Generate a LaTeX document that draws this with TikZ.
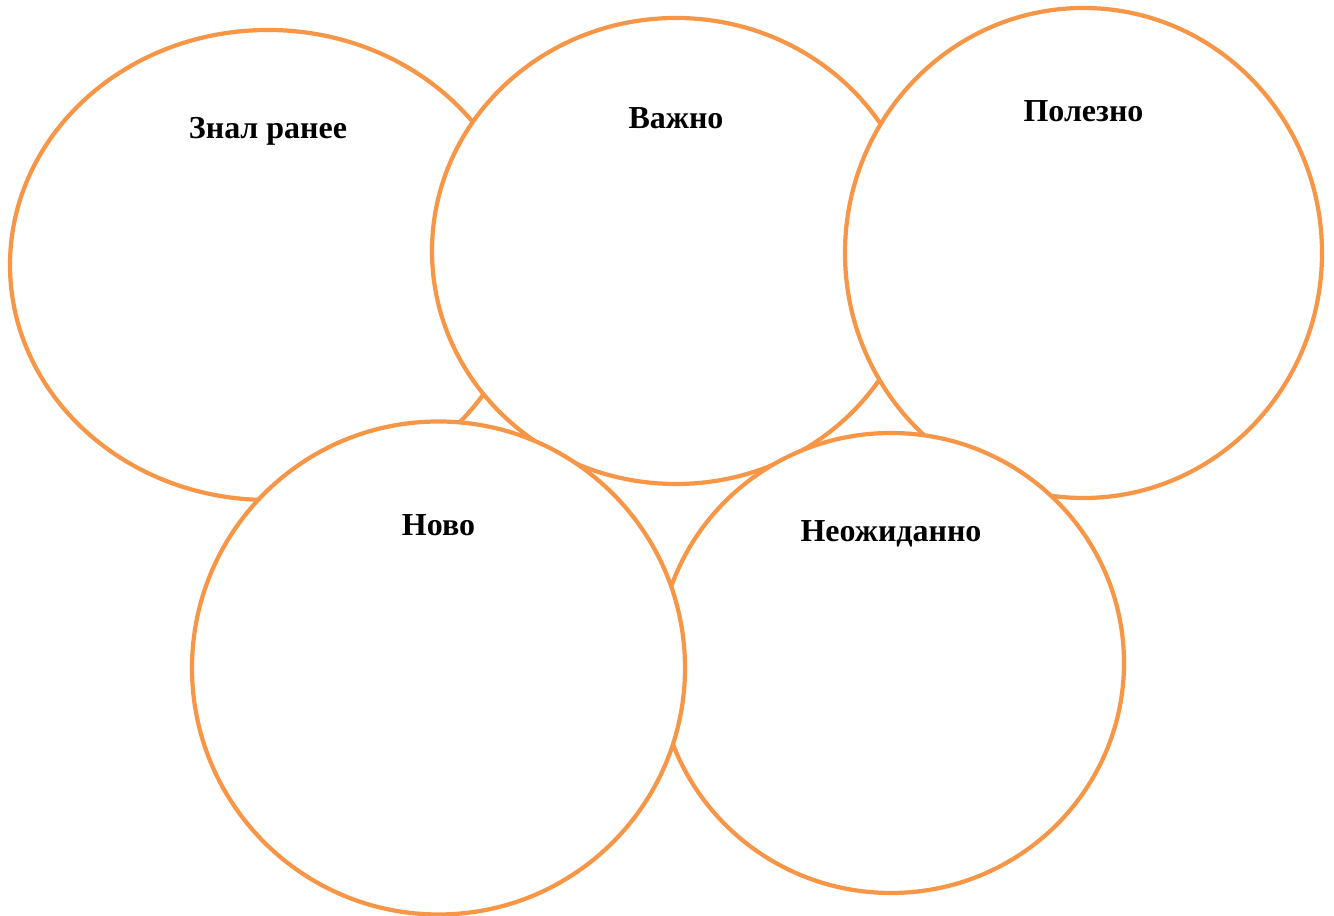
\documentclass[tikz,border=0pt]{standalone}
\usepackage{fontspec}
\setmainfont{Liberation Serif}
\usetikzlibrary{shapes.geometric,positioning,calc}
\definecolor{ringorange}{HTML}{F79646}

\begin{document}
\begin{tikzpicture}[
    ring/.style={draw=ringorange, line width=1.2pt, fill=white, ellipse, inner sep=0pt},
    lbl/.style={font=\fontsize{9.1}{11}\selectfont\bfseries, anchor=base, inner sep=0pt}
]
\useasboundingbox (0,0) rectangle (13.34,9.16);
% rings, bottom one first
\node[ring, minimum width=5.16cm, minimum height=4.70cm] (znal) at (2.68,6.51) {};
\node[ring, minimum width=4.88cm, minimum height=4.66cm] (vazh) at (6.76,6.65) {};
\node[ring, minimum width=4.77cm, minimum height=4.90cm] (polez) at (10.835,6.63) {};
\node[ring, minimum width=4.66cm, minimum height=4.60cm] (neozh) at (8.91,2.53) {};
\node[ring, minimum width=4.93cm, minimum height=4.93cm] (novo) at (4.385,2.48) {};

% captions
\node[lbl] (znal-t) at ([yshift=-1.11cm]znal.north) {Знал ранее};
\node[lbl] (vazh-t) at ([yshift=-1.13cm]vazh.north) {Важно};
\node[lbl] (polez-t) at ([yshift=-1.16cm]polez.north) {Полезно};
\node[lbl] (novo-t) at ([yshift=-1.16cm]novo.north) {Ново};
\node[lbl] (neozh-t) at ([yshift=-1.11cm]neozh.north) {Неожиданно};
\end{tikzpicture}
\end{document}
